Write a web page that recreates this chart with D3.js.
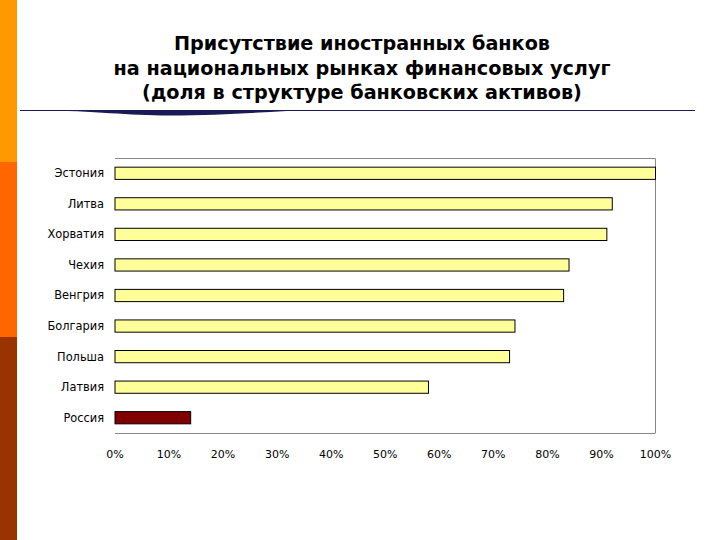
<!DOCTYPE html>
<html><head><meta charset="utf-8">
<script src="https://cdn.jsdelivr.net/npm/d3@7"></script>
<style>html,body{margin:0;padding:0;background:#fff;}svg{display:block;}</style>
</head><body>
<svg id="c" width="720" height="540"></svg>
<script>
const titleLines = ["Присутствие иностранных банков", "на национальных рынках финансовых услуг", "(доля в структуре банковских активов)"];
const categories = ["Эстония", "Литва", "Хорватия", "Чехия", "Венгрия", "Болгария", "Польша", "Латвия", "Россия"];
const values = [100, 92, 91, 84, 83, 74, 73, 58, 14];
const barColors = ["#FFFF99", "#FFFF99", "#FFFF99", "#FFFF99", "#FFFF99", "#FFFF99", "#FFFF99", "#FFFF99", "#800000"];
const xTicks = [0, 10, 20, 30, 40, 50, 60, 70, 80, 90, 100];

const svg = d3.select("#c");
const strip = [{y0:0,y1:162,c:"#FF9900"},{y0:162,y1:337,c:"#FF6600"},{y0:337,y1:540,c:"#993300"}];
svg.selectAll("rect.strip").data(strip).join("rect").attr("class","strip")
  .attr("x",0).attr("width",17).attr("y",d=>d.y0).attr("height",d=>d.y1-d.y0).attr("fill",d=>d.c);

svg.append("text").attr("x",362).attr("y",50).attr("text-anchor","middle")
  .attr("font-family","DejaVu Sans").attr("font-weight","bold").attr("font-size",19.2).attr("fill","#000")
  .selectAll("tspan").data(titleLines).join("tspan")
  .attr("x",362).attr("dy",(d,i)=>i===0?0:24.5).text(d=>d);

svg.append("line").attr("x1",20).attr("x2",695).attr("y1",110.5).attr("y2",110.5).attr("stroke","#1a1a55").attr("stroke-width",1.2);
svg.append("path").attr("d","M35,110 C100,111 125,115.5 170,115.5 C225,115.5 270,111 320,110 Z").attr("fill","#1a1a55");

const pL = 115, pR = 655.5, pT = 158, pB = 433;
const x = d3.scaleLinear().domain([0,100]).range([pL,pR]);
const y = d3.scaleBand().domain(categories).range([pT,pB]).paddingInner(0.6).paddingOuter(0.3);

const g = svg.append("g");
g.append("path").attr("d",`M${pL},${pT+0.5}H${pR}V${pB}`).attr("fill","none").attr("stroke","#888").attr("stroke-width",1);
g.append("line").attr("x1",pL).attr("x2",pR).attr("y1",pB+0.5).attr("y2",pB+0.5).attr("stroke","#888");

g.selectAll("rect.bar").data(categories).join("rect").attr("class","bar")
  .attr("x",x(0)).attr("y",d=>y(d)).attr("height",y.bandwidth())
  .attr("width",(d,i)=>x(values[i])-x(0))
  .attr("fill",(d,i)=>barColors[i]).attr("stroke","#000").attr("stroke-width",1);

g.selectAll("text.cat").data(categories).join("text").attr("class","cat")
  .attr("x",104).attr("y",d=>y(d)+y.bandwidth()/2).attr("dy","0.35em")
  .attr("text-anchor","end").attr("font-family","DejaVu Sans").attr("font-size",11.4).text(d=>d);

g.selectAll("text.tick").data(xTicks).join("text").attr("class","tick")
  .attr("x",d=>x(d)).attr("y",458).attr("text-anchor","middle")
  .attr("font-family","DejaVu Sans").attr("font-size",11).text(d=>d+"%");
</script>
</body></html>
